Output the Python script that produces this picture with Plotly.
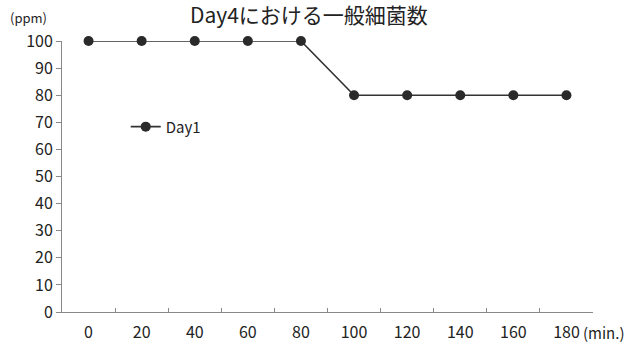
import plotly.graph_objects as go

categories = ["0", "20", "40", "60", "80", "100", "120", "140", "160", "180"]
day1 = [100, 100, 100, 100, 100, 80, 80, 80, 80, 80]
y_ticks = [0, 10, 20, 30, 40, 50, 60, 70, 80, 90, 100]

num_font = "Noto Sans CJK JP"
jp_font = "Noto Sans CJK JP"

fig = go.Figure()
fig.add_trace(go.Scatter(
    x=categories, y=day1, mode="lines+markers", name="Day1",
    line=dict(color="#333333", width=1.6),
    marker=dict(color="#2a2a2a", size=10, symbol="circle"),
    cliponaxis=False,
))

fig.update_layout(
    width=643, height=343,
    margin=dict(l=62, r=50, t=41, b=31, autoexpand=False),
    paper_bgcolor="white", plot_bgcolor="white",
    showlegend=True,
    legend=dict(x=0.12, y=0.683, xanchor="left", yanchor="middle",
                bgcolor="rgba(0,0,0,0)", itemwidth=30,
                font=dict(family=num_font, size=15, color="#222")),
    xaxis=dict(type="category", range=[-0.5, 9.5], tickson="boundaries",
               ticks="inside", ticklen=4, tickcolor="#888", automargin=False,
               showline=True, linecolor="#888", linewidth=1,
               showgrid=False, zeroline=False, ticklabelstandoff=6,
               tickfont=dict(family=num_font, size=16, color="#222")),
    yaxis=dict(range=[0, 100], tickvals=y_ticks, ticks="outside", ticklen=5,
               tickcolor="#888", showline=True, linecolor="#888", linewidth=1,
               showgrid=False, zeroline=False, automargin=False,
               tickfont=dict(family=num_font, size=16, color="#222")),
    annotations=[
        dict(text="Day4における一般細菌数", xref="paper", yref="paper",
             x=0.5, xshift=-19, y=1.0, yshift=27, xanchor="center", yanchor="middle",
             showarrow=False, font=dict(family=jp_font, size=21, color="#222")),
        dict(text="(ppm)", xref="paper", yref="paper", x=0, xshift=-54,
             y=1.0, yshift=24, xanchor="left", yanchor="middle",
             showarrow=False, font=dict(family=num_font, size=13, color="#222")),
        dict(text="(min.)", xref="paper", yref="paper", x=1.0, xshift=-12,
             y=0, yshift=-20, xanchor="left", yanchor="middle",
             showarrow=False, font=dict(family=num_font, size=15, color="#222")),
    ],
)

fig.write_html("out.html")
